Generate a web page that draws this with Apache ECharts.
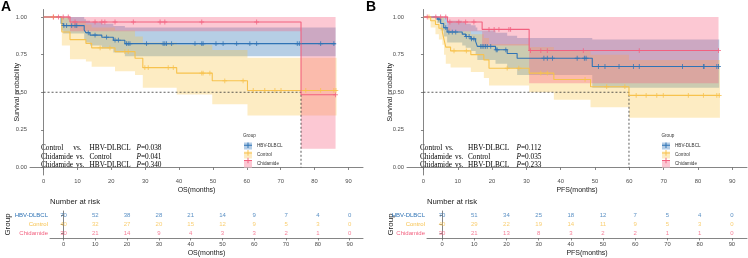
<!DOCTYPE html>
<html>
<head>
<meta charset="utf-8">
<script src="https://cdn.jsdelivr.net/npm/echarts@6/dist/echarts.min.js"></script>
<style>
  html, body { margin: 0; padding: 0; background: #fff; }
  #main { width: 748px; height: 258px; }
</style>
</head>
<body>
<div id="main"></div>
<script>
// 分组与颜色
const groups = ["HBV-DLBCL", "Control", "Chidamide"];
const lineColors = ["#2F73B5", "#F7C24E", "#F2607F"];
const bandColors = ["rgba(47,115,181,0.35)", "rgba(249,196,67,0.32)", "rgba(246,96,128,0.35)"];
const keyColors = ["#B4CDE6", "#FDEBC2", "#FCC7D3"];

const xTicks = [0, 10, 20, 30, 40, 50, 60, 70, 80, 90];
const yTicks = [0, 0.25, 0.5, 0.75, 1];

// ---- OS 生存曲线 ----
const osHbvTime  = [0, 5.2, 5.8, 12.0, 12.5, 13.7, 17.2, 20.6, 24.0, 86.2];
const osHbvSurv  = [1, 0.957, 0.943, 0.914, 0.895, 0.880, 0.866, 0.846, 0.823, 0.823];
const osHbvUpper = [1, 1, 1, 0.985, 0.975, 0.965, 0.955, 0.94, 0.93, 0.93];
const osHbvLower = [1, 0.91, 0.89, 0.85, 0.83, 0.81, 0.79, 0.765, 0.74, 0.74];
const osHbvCensor = [6.0, 6.8, 8.3, 9.3, 9.8, 13.2, 15.2, 18.6, 21.1, 22.1, 24.5, 25.0, 25.5, 30.4, 35.3, 35.8, 36.3, 37.8,
  44.7, 46.7, 47.1, 50.9, 53.0, 57.0, 60.9, 62.9, 74.9, 75.5, 81.8, 85.7];

const osCtrlTime  = [0, 5.4, 7.8, 12.5, 14.2, 21.1, 27.0, 29.3, 39.3, 49.8, 60.2, 86.5];
const osCtrlSurv  = [1, 0.90, 0.85, 0.825, 0.795, 0.77, 0.726, 0.664, 0.627, 0.576, 0.512, 0.512];
const osCtrlUpper = [1, 1, 0.97, 0.95, 0.93, 0.91, 0.87, 0.83, 0.815, 0.78, 0.73, 0.73];
const osCtrlLower = [1, 0.81, 0.72, 0.705, 0.67, 0.64, 0.615, 0.53, 0.485, 0.42, 0.345, 0.345];
const osCtrlCensor = [2.9, 16.7, 19.6, 24.0, 25.0, 29.9, 30.9, 36.8, 38.3, 46.7, 47.1, 49.1, 53.5, 58.9, 61.9, 65.3,
  68.3, 70.1, 77.4, 81.8, 85.7, 86.3];

const osChidTime  = [0, 7.8, 76.0, 86.2];
const osChidSurv  = [1, 0.967, 0.483, 0.483];
const osChidUpper = [1, 1, 1, 1];
const osChidLower = [1, 0.905, 0.125, 0.125];
const osChidCensor = [2.9, 4.4, 5.8, 7.3, 9.3, 15.2, 17.2, 18.1, 21.1, 26.5, 34.4, 35.8, 46.7, 62.9, 86.2];

// ---- PFS 生存曲线 ----
const pfsHbvTime  = [0, 4.0, 5.0, 5.9, 6.9, 11.3, 12.3, 13.8, 15.2, 15.7, 21.0, 24.4, 27.3, 49.2, 86.2];
const pfsHbvSurv  = [1, 0.986, 0.957, 0.929, 0.900, 0.886, 0.871, 0.855, 0.838, 0.805, 0.782, 0.758, 0.726, 0.671, 0.671];
const pfsHbvUpper = [1, 1, 1, 1, 0.975, 0.965, 0.955, 0.945, 0.93, 0.91, 0.895, 0.875, 0.86, 0.85, 0.85];
const pfsHbvLower = [1, 0.96, 0.91, 0.87, 0.83, 0.81, 0.795, 0.775, 0.755, 0.715, 0.69, 0.66, 0.615, 0.53, 0.53];
const pfsHbvCensor = [4.5, 6.5, 7.4, 8.4, 9.4, 12.5, 13.3, 14.0, 14.7, 16.7, 17.1, 17.6, 18.1, 18.6, 19.6, 21.2, 21.5,
  24.0, 35.1, 36.1, 37.6, 44.8, 46.9, 47.4, 51.0, 52.9, 57.0, 61.2, 62.9, 75.5, 81.6, 81.8, 85.5, 86.0];

const pfsCtrlTime  = [0, 2.1, 3.5, 4.5, 5.5, 6.0, 6.5, 7.9, 13.8, 17.6, 19.1, 30.8, 38.0, 48.7, 59.9, 86.4];
const pfsCtrlSurv  = [1, 0.975, 0.95, 0.925, 0.90, 0.85, 0.80, 0.775, 0.75, 0.715, 0.66, 0.627, 0.585, 0.537, 0.479, 0.479];
const pfsCtrlUpper = [1, 1, 1, 1, 0.995, 0.965, 0.925, 0.905, 0.885, 0.86, 0.82, 0.80, 0.78, 0.75, 0.715, 0.715];
const pfsCtrlLower = [1, 0.93, 0.885, 0.85, 0.815, 0.75, 0.69, 0.665, 0.635, 0.595, 0.545, 0.50, 0.45, 0.40, 0.33, 0.33];
const pfsCtrlCensor = [1.6, 8.9, 12.5, 24.4, 27.8, 34.2, 36.1, 47.1, 53.4, 58.7, 62.0, 64.9, 68.0, 69.9, 77.2, 81.6, 85.5, 86.2];

const pfsChidTime  = [0, 7.0, 17.1, 30.8, 86.0];
const pfsChidSurv  = [1, 0.967, 0.918, 0.777, 0.777];
const pfsChidUpper = [1, 1, 1, 1, 1];
const pfsChidLower = [1, 0.905, 0.81, 0.56, 0.56];
const pfsChidCensor = [1.1, 3.6, 5.0, 6.5, 7.7, 10.3, 12.3, 14.7, 19.1, 20.6, 22.0, 24.9, 25.4, 31.2, 34.2, 36.1, 46.6, 62.9, 86.0];

// 中位生存时间 (虚线)
const osMedian = 76.0;
const pfsMedian = 59.9;

// ---- 风险表 Number at risk ----
const osRiskHbv  = [70, 52, 38, 28, 21, 14, 9, 7, 4, 0];
const osRiskCtrl = [40, 32, 27, 20, 15, 12, 9, 5, 3, 0];
const osRiskChid = [30, 21, 14, 9, 4, 3, 3, 2, 1, 0];
const pfsRiskHbv  = [70, 51, 34, 25, 18, 12, 7, 5, 4, 0];
const pfsRiskCtrl = [40, 29, 22, 19, 14, 11, 9, 5, 3, 0];
const pfsRiskChid = [30, 21, 13, 8, 3, 2, 2, 1, 1, 0];

// log-rank 检验
const osTests  = [["Control", "HBV-DLBCL", "0.038"], ["Chidamide", "Control", "0.041"], ["Chidamide", "HBV-DLBCL", "0.340"]];
const pfsTests = [["Control", "HBV-DLBCL", "0.112"], ["Chidamide", "Control", "0.035"], ["Chidamide", "HBV-DLBCL", "0.233"]];

const sans = "Liberation Sans";
const serif = "Liberation Serif";
const axisGray = "#666666";
const labelGray = "#4d4d4d";
const plusPath = "path://M0,4L10,4L10,6L0,6Z M4,0L6,0L6,10L4,10Z";
const keyPlus = "path://M0,4.4L10,4.4L10,5.6L0,5.6Z M4.4,1.5L5.6,1.5L5.6,8.5L4.4,8.5Z";

const chart = echarts.init(document.getElementById("main"));

function survAt(time, surv, t) {
  let s = surv[0];
  for (let i = 0; i < time.length; i++) {
    if (time[i] <= t) s = surv[i];
  }
  return s;
}

// 一条KM曲线: 置信带(多边形) + 阶梯线 + 删失点
function kmSeries(p, g, time, surv, upper, lower, censor) {
  const base = { xAxisIndex: p, yAxisIndex: p, silent: true };
  const n = time.length;
  return [
    Object.assign({ type: "custom", z: 1,
      renderItem: function (params, api) {
        const pts = [];
        for (let i = 0; i < n - 1; i++) {
          pts.push(api.coord([time[i], upper[i]]), api.coord([time[i + 1], upper[i]]));
        }
        for (let i = n - 2; i >= 0; i--) {
          pts.push(api.coord([time[i + 1], lower[i]]), api.coord([time[i], lower[i]]));
        }
        return { type: "polygon", shape: { points: pts }, style: { fill: bandColors[g] } };
      },
      data: [[time[0], upper[0]]] }, base),
    Object.assign({ type: "line", name: groups[g], step: "end", symbol: "none", z: 3,
      lineStyle: { color: lineColors[g], width: 1.1 }, itemStyle: { color: lineColors[g] },
      data: time.map((t, i) => [t, surv[i]]) }, base),
    Object.assign({ type: "scatter", name: groups[g], symbol: plusPath, symbolSize: 4.8, z: 4,
      itemStyle: { color: lineColors[g] },
      data: censor.map(t => [t, survAt(time, surv, t)]) }, base)
  ];
}

function medianSeries(p, m) {
  return { type: "line", xAxisIndex: p, yAxisIndex: p, silent: true, symbol: "none", z: 2,
    lineStyle: { color: "#333", width: 0.8, type: [2, 2] },
    data: [[0, 0.5], [m, 0.5], [m, 0]] };
}

function riskSeries(p, g, counts) {
  return { type: "scatter", xAxisIndex: p, yAxisIndex: p, silent: true, symbolSize: 1,
    itemStyle: { color: "rgba(0,0,0,0)" },
    label: { show: true, position: "inside", formatter: d => d.value[2],
      color: lineColors[g], fontSize: 6, fontFamily: sans },
    data: xTicks.map((t, i) => [t, groups[g], counts[i]]) };
}

function plotX(grid, min, max, name) {
  return { gridIndex: grid, type: "value", min: min, max: max,
    axisLine: { show: true, lineStyle: { color: axisGray, width: 0.8 } },
    axisTick: { show: true, length: 2.5, customValues: xTicks, lineStyle: { color: axisGray, width: 0.8 } },
    axisLabel: { customValues: xTicks, fontSize: 5.8, color: labelGray, fontFamily: sans, margin: 3 },
    splitLine: { show: false },
    name: name, nameLocation: "middle", nameGap: 11.5, nameMoveOverlap: false,
    nameTextStyle: { fontSize: 7, color: "#1a1a1a", fontFamily: sans } };
}

function plotY(grid, gap) {
  return { gridIndex: grid, type: "value", min: -0.05, max: 1.05,
    axisLine: { show: true, lineStyle: { color: axisGray, width: 0.8 } },
    axisTick: { show: true, length: 2.5, customValues: yTicks, lineStyle: { color: axisGray, width: 0.8 } },
    axisLabel: { customValues: yTicks, fontSize: 5.8, color: labelGray, fontFamily: sans, margin: 3,
      formatter: v => v.toFixed(2) },
    splitLine: { show: false },
    name: "Survival probability", nameLocation: "middle", nameRotate: 90, nameGap: gap, nameMoveOverlap: false,
    nameTextStyle: { fontSize: 7, color: "#1a1a1a", fontFamily: sans } };
}

function tableY(grid, gap) {
  return { gridIndex: grid, type: "category", data: groups.slice().reverse(),
    axisLine: { show: true, lineStyle: { color: axisGray, width: 0.8 } },
    axisTick: { show: true, length: 2.5, alignWithLabel: true, lineStyle: { color: axisGray, width: 0.8 } },
    axisLabel: { fontSize: 6, fontFamily: sans, margin: 2, color: v => lineColors[groups.indexOf(v)] },
    name: "Group", nameLocation: "middle", nameRotate: 90, nameGap: gap, nameMoveOverlap: false,
    nameTextStyle: { fontSize: 8, color: "#1a1a1a", fontFamily: sans } };
}

// 检验结果文字 (vs. 紧跟第一组名之后)
const measureCtx = document.createElement("canvas").getContext("2d");
measureCtx.font = "7.3px " + serif;

function testTexts(tests, cols) {
  const out = [];
  tests.forEach((r, i) => {
    const y = 148.3 + i * 8.4;
    const vsX = Math.max(cols[1], cols[0] + measureCtx.measureText(r[0]).width + 3);
    const cells = [[r[0], cols[0]], ["vs.", vsX], [r[1], cols[2]], ["{i|P}=" + r[2], cols[3]]];
    cells.forEach(c => {
      out.push({ type: "text", x: c[1], y: y, silent: true,
        style: { text: c[0], fontSize: 7.3, fontFamily: serif, fill: "#000", verticalAlign: "middle",
          rich: { i: { fontStyle: "italic", fontSize: 7.3, fontFamily: serif } } } });
    });
  });
  return out;
}

function legendOpts(left) {
  const names = groups.map((n, g) => ({ name: n, itemStyle: { color: keyColors[g] } }));
  const pluses = groups.map((n, g) => ({ name: n, itemStyle: { color: lineColors[g] } }));
  const common = { orient: "vertical", left: left, top: 142.5, padding: 0, itemWidth: 8, itemHeight: 7,
    itemGap: 2, selectedMode: false };
  return [
    Object.assign({ icon: "rect", data: names, textStyle: { fontSize: 4.6, color: "#333", fontFamily: sans } }, common),
    Object.assign({ icon: keyPlus, data: pluses, textStyle: { fontSize: 4.6, color: "rgba(0,0,0,0)", fontFamily: sans } }, common)
  ];
}

let series = [];
series = series.concat(kmSeries(0, 0, osHbvTime, osHbvSurv, osHbvUpper, osHbvLower, osHbvCensor));
series = series.concat(kmSeries(0, 1, osCtrlTime, osCtrlSurv, osCtrlUpper, osCtrlLower, osCtrlCensor));
series = series.concat(kmSeries(0, 2, osChidTime, osChidSurv, osChidUpper, osChidLower, osChidCensor));
series.push(medianSeries(0, osMedian));
series = series.concat(kmSeries(1, 0, pfsHbvTime, pfsHbvSurv, pfsHbvUpper, pfsHbvLower, pfsHbvCensor));
series = series.concat(kmSeries(1, 1, pfsCtrlTime, pfsCtrlSurv, pfsCtrlUpper, pfsCtrlLower, pfsCtrlCensor));
series = series.concat(kmSeries(1, 2, pfsChidTime, pfsChidSurv, pfsChidUpper, pfsChidLower, pfsChidCensor));
series.push(medianSeries(1, pfsMedian));
series.push(riskSeries(2, 0, osRiskHbv), riskSeries(2, 1, osRiskCtrl), riskSeries(2, 2, osRiskChid));
series.push(riskSeries(3, 0, pfsRiskHbv), riskSeries(3, 1, pfsRiskCtrl), riskSeries(3, 2, pfsRiskChid));

const option = {
  backgroundColor: "#ffffff",
  animation: false,
  grid: [
    { left: 30, top: 9.5, width: 333, height: 165.5, outerBoundsMode: "none" },
    { left: 407, top: 9.5, width: 340, height: 165.5, outerBoundsMode: "none" },
    { left: 50, top: 211, width: 313, height: 27, outerBoundsMode: "none" },
    { left: 427, top: 211, width: 320, height: 27, outerBoundsMode: "none" }
  ],
  xAxis: [
    plotX(0, -4, 94.3, "OS(months)"),
    plotX(1, -4.8, 94.3, "PFS(months)"),
    plotX(2, -4.25, 94.2, "OS(months)"),
    plotX(3, -4.66, 94.7, "PFS(months)")
  ],
  yAxis: [plotY(0, 9), plotY(1, 13), tableY(2, 38), tableY(3, 32)],
  legend: legendOpts(244).concat(legendOpts(662)),
  graphic: [
    { type: "text", x: 1, y: 0, style: { text: "A", fontSize: 14, fontWeight: "bold", fontFamily: sans, fill: "#000" } },
    { type: "text", x: 366, y: 0, style: { text: "B", fontSize: 14, fontWeight: "bold", fontFamily: sans, fill: "#000" } },
    { type: "text", x: 243, y: 135.7, style: { text: "Group", fontSize: 4.6, fontFamily: sans, fill: "#333", verticalAlign: "middle" } },
    { type: "text", x: 661.5, y: 135.7, style: { text: "Group", fontSize: 4.6, fontFamily: sans, fill: "#333", verticalAlign: "middle" } },
    { type: "text", x: 50, y: 201.7, style: { text: "Number at risk", fontSize: 7.7, fontFamily: sans, fill: "#222", verticalAlign: "middle" } },
    { type: "text", x: 427, y: 201.7, style: { text: "Number at risk", fontSize: 7.7, fontFamily: sans, fill: "#222", verticalAlign: "middle" } }
  ].concat(testTexts(osTests, [41, 73.3, 89.5, 136.5]), testTexts(pfsTests, [420, 444, 468, 516.5])),
  series: series
};

chart.setOption(option);
</script>
</body>
</html>
